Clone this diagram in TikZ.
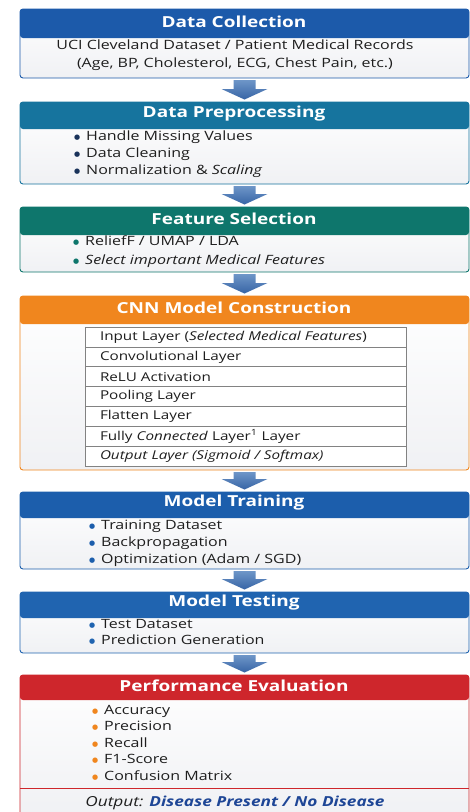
\documentclass[tikz,border=0pt]{standalone}
\usepackage{fontspec}
\setmainfont[FakeStretch=1.25]{Open Sans}
\newfontfamily\bulfont{DejaVu Sans}
\usetikzlibrary{calc,positioning}
\definecolor{dccol}{RGB}{28,90,170}
\definecolor{dpcol}{RGB}{22,116,158}
\definecolor{fscol}{RGB}{14,118,108}
\definecolor{cnncol}{RGB}{240,134,30}
\definecolor{mtrcol}{RGB}{28,94,172}
\definecolor{mtecol}{RGB}{32,100,176}
\definecolor{pecol}{RGB}{206,38,44}
\definecolor{bodybot}{RGB}{240,241,244}
\definecolor{txt}{RGB}{30,30,30}
\definecolor{arrtop}{RGB}{110,150,200}
\definecolor{arrbot}{RGB}{55,100,165}
\definecolor{navy}{RGB}{25,50,90}
\definecolor{outblue}{RGB}{30,70,150}
\definecolor{rowline}{RGB}{130,130,130}
\newcommand\stagebox[6]{%
  \node[stagebody, minimum height={#5-#3}] (#1) at (244.5,{(#3+#5)/2}) {};
  \fill[#2, rounded corners=3pt] (20,#3) rectangle (469,{#4+5});
  \fill[#2] (20,{#4-4}) rectangle (469,#4);
  \draw[#2, line width=0.9pt, rounded corners=3pt] (#1.north west) rectangle (#1.south east);
  \node[htitle] (#1t) at (234,{(#3+#4)/2+0.5}) {#6};
}
\newcommand\bitem[5]{% name, x, y, bullet colour, text
  \node[itemtext] (#1) at (#2,{#3+1}) {\makebox[12pt]{\raisebox{1.2pt}{\bulfont\fontsize{7}{7}\selectfont\color{#4}\char"25CF}}\hspace{3pt}#5};
}
\newcommand\blockarrow[2]{%
  \shade[top color=arrtop, bottom color=arrbot]
    ([xshift=-11pt,yshift=-2pt]#1.south) -- ([xshift=11pt,yshift=-2pt]#1.south)
    -- ([xshift=11pt,yshift=13pt]#2.north) -- ([xshift=23pt,yshift=13pt]#2.north)
    -- ([yshift=2.5pt]#2.north) -- ([xshift=-23pt,yshift=13pt]#2.north)
    -- ([xshift=-11pt,yshift=13pt]#2.north) -- cycle;
}
\begin{document}
\begin{tikzpicture}[x=1pt,y=-1pt,
  stagebody/.style={rectangle, rounded corners=3pt, top color=white, bottom color=bodybot,
    minimum width=449pt, inner sep=0pt, outer sep=0pt},
  htitle/.style={text=white, font=\fontsize{15.2}{18}\selectfont\bfseries, inner sep=0pt},
  itemtext/.style={anchor=mid west, inner sep=0pt, text=txt, font=\fontsize{12.8}{15}\selectfont},
  ctext/.style={anchor=mid, inner sep=0pt, text=txt, font=\fontsize{12.8}{15}\selectfont},
  layerrow/.style={draw=rowline, line width=0.7pt, fill=white, minimum width=321pt, minimum height=19.86pt,
    text width=291pt, align=left, inner sep=0pt, outer sep=0pt, text=txt, font=\fontsize{12.2}{15}\selectfont}
]
\clip (0,0) rectangle (470,812);
\fill[white] (0,0) rectangle (470,812);

% Data Collection
\stagebox{dc}{dccol}{9}{33}{78}{Data Collection}
\node[ctext] (dc1) at (235,47) {UCI Cleveland Dataset / Patient Medical Records};
\node[ctext] (dc2) at (235,65) {(Age, BP, Cholesterol, ECG, Chest Pain, etc.)};

% Data Preprocessing
\stagebox{dp}{dpcol}{102}{124}{184}{Data Preprocessing}
\bitem{dp1}{71}{137}{navy}{Handle Missing Values}
\bitem{dp2}{71}{154}{navy}{Data Cleaning}
\bitem{dp3}{71}{171}{navy}{Normalization \& \textit{Scaling}}

% Feature Selection
\stagebox{fs}{fscol}{207}{230}{272}{Feature Selection}
\bitem{fs1}{70}{242}{fscol}{ReliefF / UMAP / LDA}
\bitem{fs2}{70}{261}{fscol}{\textit{Select important Medical Features}}

% CNN Model Construction
\stagebox{cnn}{cnncol}{296}{319}{470}{CNN Model Construction}
\node[layerrow] (l1) at (245.5,337) {Input Layer (\textit{Selected Medical Features})};
\node[layerrow, below=0pt of l1] (l2) {Convolutional Layer};
\node[layerrow, below=0pt of l2] (l3) {ReLU Activation};
\node[layerrow, below=0pt of l3] (l4) {Pooling Layer};
\node[layerrow, below=0pt of l4] (l5) {Flatten Layer};
\node[layerrow, below=0pt of l5] (l6) {Fully \textit{Connected} Layer\textsuperscript{1} Layer};
\node[layerrow, below=0pt of l6] (l7) {\textit{Output Layer (Sigmoid / Softmax)}};

% Model Training
\stagebox{mtr}{mtrcol}{492}{513}{569}{Model Training}
\bitem{mtr1}{86}{526}{mtrcol}{Training Dataset}
\bitem{mtr2}{86}{543}{mtrcol}{Backpropagation}
\bitem{mtr3}{86}{560}{mtrcol}{Optimization (Adam / SGD)}

% Model Testing
\stagebox{mte}{mtecol}{592}{613}{653}{Model Testing}
\bitem{mte1}{86}{625}{mtecol}{Test Dataset}
\bitem{mte2}{86}{641}{mtecol}{Prediction Generation}

% Performance Evaluation
\stagebox{pe}{pecol}{675}{695}{816}{Performance Evaluation}
\bitem{pe1}{89}{711}{cnncol}{Accuracy}
\bitem{pe2}{89}{727}{cnncol}{Precision}
\bitem{pe3}{89}{744}{cnncol}{Recall}
\bitem{pe4}{89}{760}{cnncol}{F1-Score}
\bitem{pe5}{89}{777}{cnncol}{Confusion Matrix}
\draw[pecol, line width=0.8pt] (20,788) -- (469,788);
\node[ctext, font=\fontsize{13.8}{16}\selectfont] (out) at (235,804) {\textit{Output:} \textcolor{outblue}{\bfseries\itshape Disease Present / No Disease}};

% arrows
\blockarrow{dc}{dp}
\blockarrow{dp}{fs}
\blockarrow{fs}{cnn}
\blockarrow{cnn}{mtr}
\blockarrow{mtr}{mte}
\blockarrow{mte}{pe}
\end{tikzpicture}
\end{document}
